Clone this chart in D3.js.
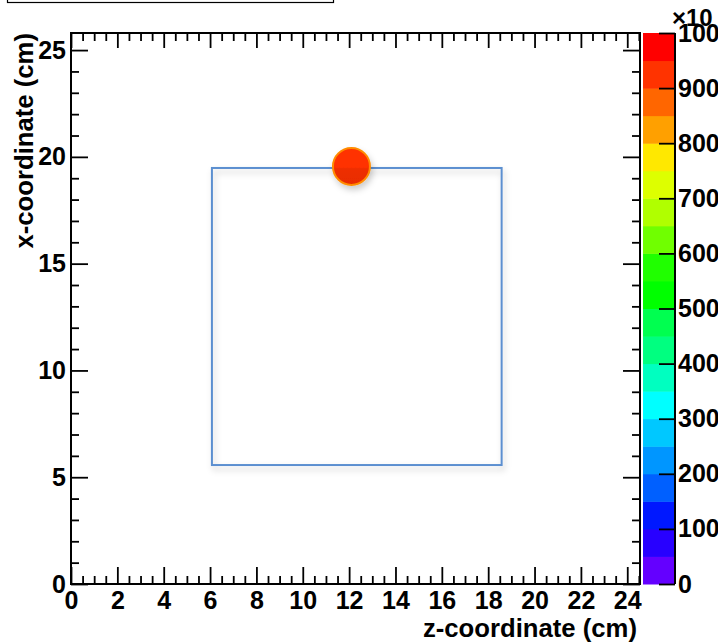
<!DOCTYPE html>
<html>
<head>
<meta charset="utf-8">
<script src="https://cdn.jsdelivr.net/npm/d3@7"></script>
<style>
  html, body { margin: 0; padding: 0; background: #fff; }
  svg { display: block; }
  text { font-family: "Liberation Sans", Arial, Helvetica, sans-serif; font-weight: bold; fill: #000; }
</style>
</head>
<body>
<div id="chart"></div>
<script>
// ---------------- data ----------------
const xMajorTicks = [0, 2, 4, 6, 8, 10, 12, 14, 16, 18, 20, 22, 24];
const yMajorTicks = [0, 5, 10, 15, 20, 25];
const zTicks = [0, 100, 200, 300, 400, 500, 600, 700, 800, 900, 1000];
const xDomain = [0, 24.55];
const yDomain = [0, 25.8];
const zDomain = [0, 1000];
const paletteColors = ["#6400ff","#2800ff","#0018ff","#0060ff","#0096ff","#00c8ff","#00ffff","#00ffc0","#00ff80","#00ff50",
                       "#00ff00","#20ff00","#70ff00","#b0ff00","#ddff00","#ffe800","#ffa000","#ff6600","#ff3300","#ff0000"];
const boxZ = [6.08, 18.58];   // z-coordinate extent of the square
const boxX = [5.57, 19.48];   // x-coordinate extent of the square
const pointZ = [12.1];
const pointX = [19.55];
const pointValue = [930];
const xTitle = "z-coordinate (cm)";
const yTitle = "x-coordinate (cm)";

// ---------------- layout ----------------
const W = 718, H = 644;
const L = 71, R = 640, T = 33, B = 584;
const barL = 643, barR = 675;

const svg = d3.select("#chart").append("svg").attr("width", W).attr("height", H);
const defs = svg.append("defs");
const f = defs.append("filter").attr("id", "shadow").attr("x", "-20%").attr("y", "-20%").attr("width", "150%").attr("height", "150%");
f.append("feDropShadow").attr("dx", 2).attr("dy", 4).attr("stdDeviation", 3).attr("flood-color", "#000").attr("flood-opacity", 0.2);
const g = defs.append("linearGradient").attr("id", "ballGrad").attr("x1", 0).attr("y1", 0).attr("x2", 0).attr("y2", 1);
g.append("stop").attr("offset", "0%").attr("stop-color", "#ff3300");
g.append("stop").attr("offset", "52%").attr("stop-color", "#ff3000");
g.append("stop").attr("offset", "56%").attr("stop-color", "#ee2e00");
g.append("stop").attr("offset", "100%").attr("stop-color", "#e82c00");

const x = d3.scaleLinear().domain(xDomain).range([L, R]);
const y = d3.scaleLinear().domain(yDomain).range([B, T]);
const z = d3.scaleLinear().domain(zDomain).range([B, T]);
const colorOf = d3.scaleQuantize().domain(zDomain).range(paletteColors);

// title box (mostly off-screen)
svg.append("rect").attr("x", 7.5).attr("y", -20).attr("width", 326).attr("height", 22.5)
  .attr("fill", "#fff").attr("stroke", "#000").attr("stroke-width", 1.2);

// ---------------- axes ----------------
const fontSize = 25;
const xMinor = d3.range(0, 24.6, 0.5).filter(v => xMajorTicks.indexOf(v) < 0);
const yMinor = d3.range(0, 25.9, 1).filter(v => yMajorTicks.indexOf(v) < 0);

function styleAxis(sel) {
  sel.select(".domain").remove();
  sel.selectAll(".tick line").attr("stroke", "#000").attr("stroke-width", 1.8);
  sel.selectAll(".tick text").style("font-size", fontSize + "px").attr("fill", "#000");
}

// bottom
svg.append("g").attr("transform", `translate(0,${B})`)
  .call(d3.axisBottom(x).tickValues(xMajorTicks).tickSize(-17).tickPadding(7).tickFormat(d3.format("d")))
  .call(styleAxis);
svg.append("g").attr("transform", `translate(0,${B})`)
  .call(d3.axisBottom(x).tickValues(xMinor).tickSize(-8).tickFormat(""))
  .call(styleAxis);
// top
svg.append("g").attr("transform", `translate(0,${T})`)
  .call(d3.axisTop(x).tickValues(xMajorTicks).tickSize(-15).tickFormat(""))
  .call(styleAxis);
svg.append("g").attr("transform", `translate(0,${T})`)
  .call(d3.axisTop(x).tickValues(xMinor).tickSize(-8).tickFormat(""))
  .call(styleAxis);
// left
svg.append("g").attr("transform", `translate(${L},0)`)
  .call(d3.axisLeft(y).tickValues(yMajorTicks).tickSize(-17).tickPadding(5).tickFormat(d3.format("d")))
  .call(styleAxis);
svg.append("g").attr("transform", `translate(${L},0)`)
  .call(d3.axisLeft(y).tickValues(yMinor).tickSize(-8).tickFormat(""))
  .call(styleAxis);
// right
svg.append("g").attr("transform", `translate(${R},0)`)
  .call(d3.axisLeft(y).tickValues(yMajorTicks).tickSize(17).tickFormat(""))
  .call(styleAxis);
svg.append("g").attr("transform", `translate(${R},0)`)
  .call(d3.axisLeft(y).tickValues(yMinor).tickSize(8).tickFormat(""))
  .call(styleAxis);

// frame
svg.append("rect").attr("x", L).attr("y", T).attr("width", R - L).attr("height", B - T)
  .attr("fill", "none").attr("stroke", "#000").attr("stroke-width", 2);

// ---------------- marks ----------------
svg.append("rect")
  .attr("x", x(boxZ[0])).attr("y", y(boxX[1]))
  .attr("width", x(boxZ[1]) - x(boxZ[0])).attr("height", y(boxX[0]) - y(boxX[1]))
  .attr("fill", "none").attr("stroke", "#5b8fd0").attr("stroke-width", 2)
  .attr("filter", "url(#shadow)");

svg.selectAll("circle.pt").data(pointZ.map((d, i) => ({ z: d, x: pointX[i], v: pointValue[i] })))
  .enter().append("circle").attr("class", "pt")
  .attr("cx", d => x(d.z)).attr("cy", d => y(d.x)).attr("r", 18.5)
  .attr("fill", "url(#ballGrad)").attr("stroke", "#ff8c00").attr("stroke-width", 2)
  .attr("filter", "url(#shadow)");

// ---------------- colour bar ----------------
const bandStep = (zDomain[1] - zDomain[0]) / paletteColors.length;
svg.append("g").selectAll("rect").data(paletteColors).enter().append("rect")
  .attr("x", barL).attr("width", barR - barL)
  .attr("y", (c, i) => z((i + 1) * bandStep))
  .attr("height", (c, i) => z(i * bandStep) - z((i + 1) * bandStep) + 0.5)
  .attr("fill", c => c);
svg.append("line").attr("x1", barR).attr("x2", barR).attr("y1", T).attr("y2", B)
  .attr("stroke", "#000").attr("stroke-width", 2);
svg.append("g").attr("transform", `translate(${barR},0)`)
  .call(d3.axisRight(z).tickValues(zTicks).tickSize(-16).tickPadding(3).tickFormat(d3.format("d")))
  .call(styleAxis);
svg.append("text").attr("x", 672).attr("y", 26).style("font-size", "24px").text("×10");

// ---------------- titles ----------------
svg.append("text").attr("x", 637).attr("y", 637).attr("text-anchor", "end")
  .style("font-size", "25.7px").text(xTitle);
svg.append("text").attr("transform", `translate(33,${T}) rotate(-90)`).attr("text-anchor", "end")
  .style("font-size", "25.7px").text(yTitle);
</script>
</body>
</html>
